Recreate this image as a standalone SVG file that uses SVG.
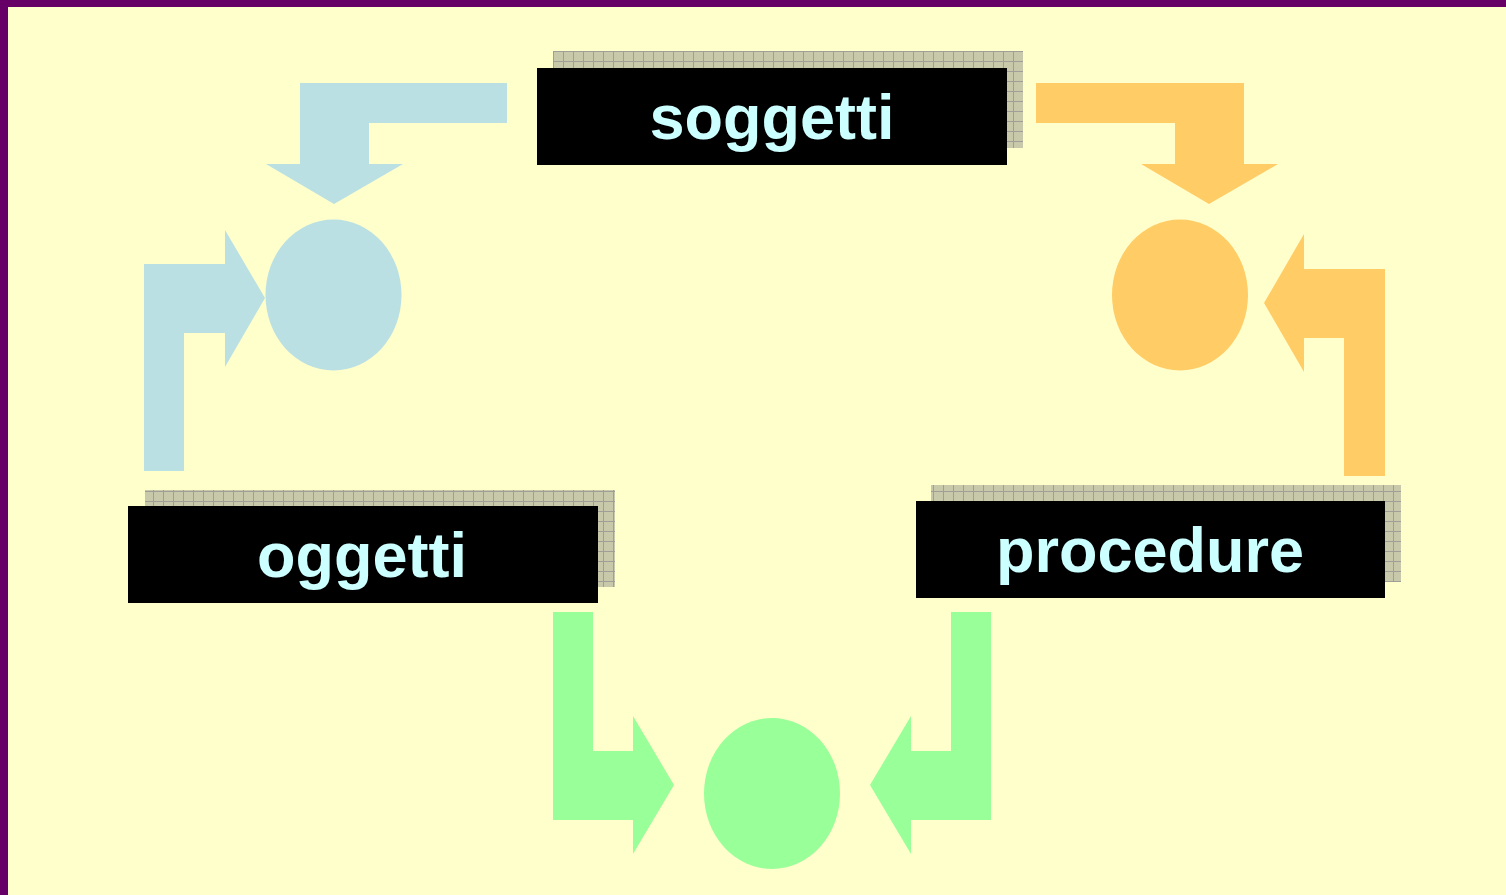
<svg xmlns="http://www.w3.org/2000/svg" width="1506" height="895" viewBox="0 0 1506 895">
<defs>
<pattern id="grid" x="3" y="1" width="10" height="10" patternUnits="userSpaceOnUse">
<rect width="10" height="10" fill="#c8c8aa"/>
<path d="M0 0.5H10M0.5 0V10" stroke="#9f9f98" stroke-width="1"/>
</pattern>
<style>
.bg{fill:#ffffcc}
.blue{fill:#bbe0e3}
.orange{fill:#ffcc66}
.green{fill:#99ff99}
.shadow{fill:url(#grid)}
.box{fill:#000000}
.lbl{font-family:"Liberation Sans",Arial,sans-serif;font-weight:bold;font-size:63px;fill:#ccffff;text-anchor:middle}
</style>
</defs>
<rect class="bg" x="0" y="0" width="1506" height="895"/>
<rect x="0" y="0" width="1506" height="7" fill="#660066"/>
<rect x="0" y="0" width="8" height="895" fill="#660066"/>

<g id="connectors">
<polygon class="blue" points="507,83 300,83 300,164 266,164 334,204 403,164 369,164 369,123 507,123"/>
<polygon class="blue" points="144,471 144,264 225,264 225,230 265,298 225,367 225,333 184,333 184,471"/>
<polygon class="orange" points="1036,83 1244,83 1244,164 1278,164 1209,204 1141,164 1175,164 1175,123 1036,123"/>
<polygon class="orange" points="1385,476 1385,269 1304,269 1304,234 1264,303 1304,372 1304,338 1344,338 1344,476"/>
<polygon class="green" points="553,612 593,612 593,751 633,751 633,716 674,785 633,854 633,820 553,820"/>
<polygon class="green" points="991,612 951,612 951,751 911,751 911,716 870,785 911,854 911,820 991,820"/>
</g>

<g id="node-blue-circle"><ellipse class="blue" cx="333.5" cy="295" rx="68" ry="75.5"/></g>
<g id="node-orange-circle"><ellipse class="orange" cx="1180" cy="295" rx="68" ry="75.5"/></g>
<g id="node-green-circle"><ellipse class="green" cx="772" cy="793.5" rx="68" ry="75.5"/></g>

<g id="node-soggetti">
<rect class="shadow" x="553" y="51" width="470" height="97"/>
<rect class="box" x="537" y="68" width="470" height="97"/>
<text class="lbl" x="772" y="139">soggetti</text>
</g>
<g id="node-oggetti">
<rect class="shadow" x="145" y="490" width="470" height="97"/>
<rect class="box" x="128" y="506" width="470" height="97"/>
<text class="lbl" x="362" y="577">oggetti</text>
</g>
<g id="node-procedure">
<rect class="shadow" x="931" y="485" width="470" height="97"/>
<rect class="box" x="916" y="501" width="469" height="97"/>
<text class="lbl" x="1150" y="572">procedure</text>
</g>
</svg>
